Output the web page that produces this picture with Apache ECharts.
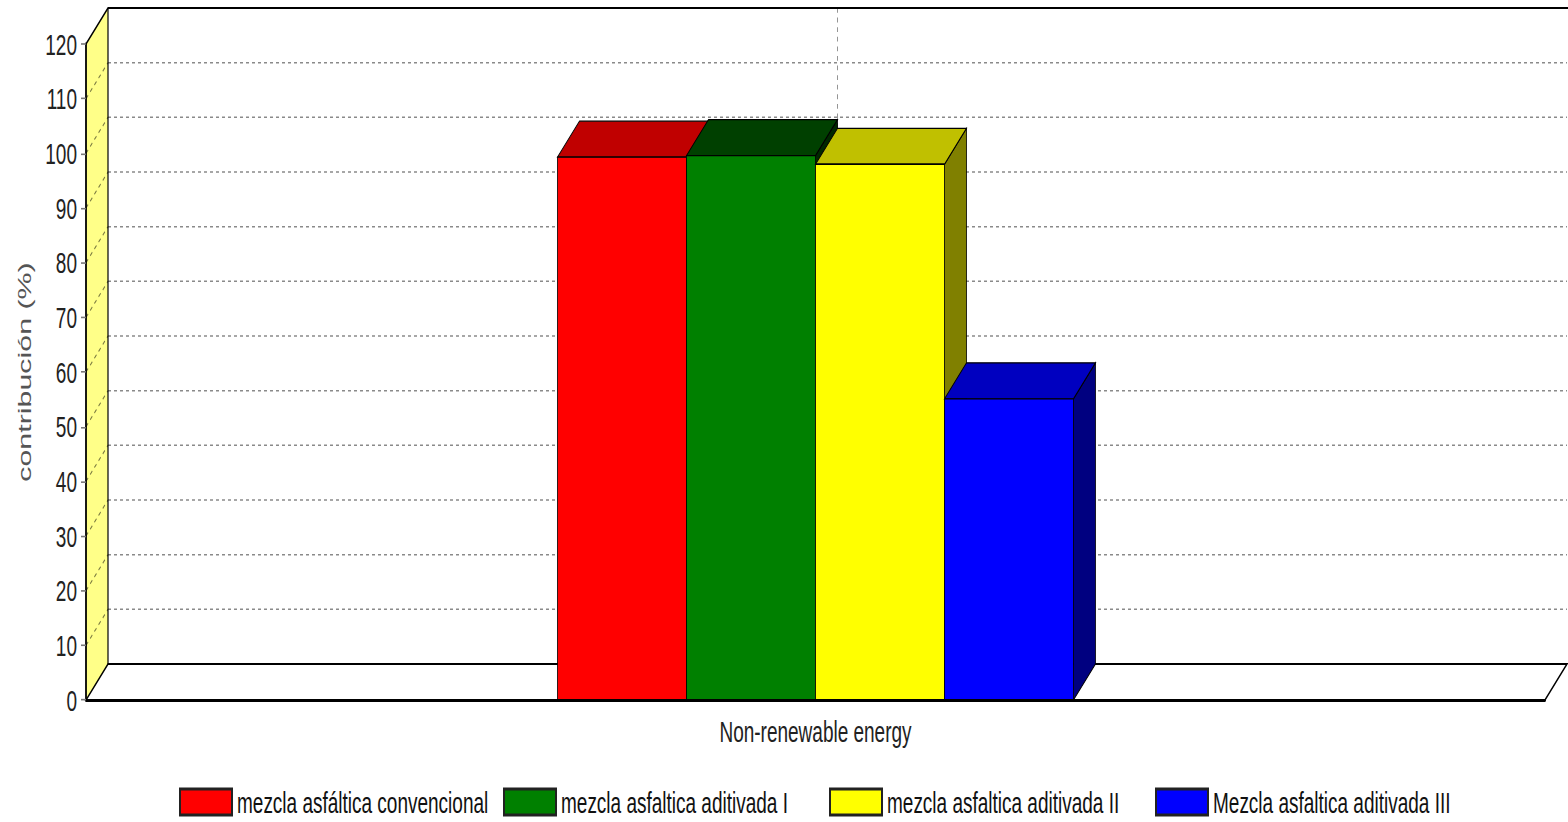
<!DOCTYPE html>
<html>
<head>
<meta charset="utf-8">
<title>contribución (%) - Non-renewable energy</title>
<script src="https://cdn.jsdelivr.net/npm/echarts@6/dist/echarts.min.js"></script>
<style>
  html, body { margin: 0; padding: 0; background: #fff; overflow: hidden; }
  #frame { width: 1568px; height: 822px; overflow: hidden; position: relative; }
  /* the chart is laid out on a shorter canvas and stretched vertically */
  #chart { width: 1568px; height: 514px; transform: scaleY(1.5992); transform-origin: 0 0; }
</style>
</head>
<body>
<div id="frame"><div id="chart"></div></div>
<script>
// ---- data ----
const categories = ['Non-renewable energy'];
const seriesNames = [
  'mezcla asfáltica convencional',
  'mezcla asfaltica aditivada I',
  'mezcla asfaltica aditivada II',
  'Mezcla asfaltica aditivada III'
];
const convencional = [99.3];
const aditivadaI = [99.6];
const aditivadaII = [98.0];
const aditivadaIII = [55.1];
const yTickValues = [0, 10, 20, 30, 40, 50, 60, 70, 80, 90, 100, 110, 120];
const yAxisTitle = 'contribución (%)';

// ---- layout / style ----
const S = 822 / 514;            // vertical stretch applied by CSS
const DX = 22;                  // depth offset of the 3D box (px)
const DY = 36 / S;
const BAR_FRAC = 129 / 1459;    // bar width as a share of the category band
const FONT = '"Liberation Sans", Arial, sans-serif';
const palette = [
  { front: '#ff0000', top: '#c00000', side: '#800000' },
  { front: '#008000', top: '#004000', side: '#002800' },
  { front: '#ffff00', top: '#c0c000', side: '#808000' },
  { front: '#0000ff', top: '#0000c0', side: '#000080' }
];
const seriesValues = [convencional, aditivadaI, aditivadaII, aditivadaIII];

// back wall, side wall, floor and their grid lines
function renderWalls(params, api) {
  const cs = params.coordSys;
  const L = cs.x, R = cs.x + cs.width, T = cs.y, B = cs.y + cs.height;
  const children = [];
  children.push({
    type: 'polygon',
    shape: { points: [[L, B], [L, T], [L + DX, T - DY], [L + DX, B - DY]] },
    style: { fill: '#ffff88', stroke: null }
  });
  children.push({
    type: 'polygon',
    shape: { points: [[L, B], [R, B], [R + DX, B - DY], [L + DX, B - DY]] },
    style: { fill: '#ffffff', stroke: '#000', lineWidth: 1.2 }
  });
  const maxV = yTickValues[yTickValues.length - 1];
  yTickValues.forEach(function (v) {
    if (v === 0 || v === maxV) return;
    const y = api.coord([0, v])[1];
    children.push({
      type: 'line',
      shape: { x1: L + DX, y1: y - DY, x2: R + DX, y2: y - DY },
      style: { stroke: '#8a8a8a', lineWidth: 0.9, lineDash: [3, 3] }
    });
    children.push({
      type: 'line',
      shape: { x1: L, y1: y, x2: L + DX, y2: y - DY },
      style: { stroke: '#7a7a40', lineWidth: 0.9, lineDash: [3, 3] }
    });
  });
  const cx = api.coord([0, 0])[0] + DX;
  children.push({
    type: 'line',
    shape: { x1: cx, y1: T - DY, x2: cx, y2: B - DY },
    style: { stroke: '#8a8a8a', lineWidth: 0.9, lineDash: [3, 3] }
  });
  children.push({
    type: 'polyline',
    shape: { points: [[L, T], [L + DX, T - DY], [R + DX + 2, T - DY]] },
    style: { stroke: '#000', lineWidth: 1.2, fill: null }
  });
  children.push({
    type: 'line',
    shape: { x1: L + DX, y1: T - DY, x2: L + DX, y2: B - DY },
    style: { stroke: '#000', lineWidth: 1.2 }
  });
  return { type: 'group', children: children };
}

// one 3D bar: right side, top and front face
function barRenderer(k) {
  return function (params, api) {
    const cat = api.value(0), val = api.value(1);
    const base = api.coord([cat, 0]);
    const top = api.coord([cat, val]);
    const bw = api.size([1, 0])[0] * BAR_FRAC;
    const x0 = base[0] + (k - seriesNames.length / 2) * bw;
    const x1 = x0 + bw;
    const yb = base[1], yt = top[1];
    const c = palette[k];
    return {
      type: 'group',
      children: [
        { type: 'polygon',
          shape: { points: [[x1, yt], [x1 + DX, yt - DY], [x1 + DX, yb - DY], [x1, yb]] },
          style: { fill: c.side, stroke: '#000', lineWidth: 0.8 } },
        { type: 'polygon',
          shape: { points: [[x0, yt], [x1, yt], [x1 + DX, yt - DY], [x0 + DX, yt - DY]] },
          style: { fill: c.top, stroke: '#000', lineWidth: 0.8 } },
        { type: 'rect',
          shape: { x: x0, y: yt, width: bw, height: yb - yt },
          style: { fill: c.front, stroke: '#000', lineWidth: 0.8 } }
      ]
    };
  };
}

const series = [{
  name: 'walls',
  type: 'custom',
  silent: true,
  z: 1,
  renderItem: renderWalls,
  data: [[0, 0]]
}];
seriesNames.forEach(function (name, k) {
  series.push({
    name: name,
    type: 'custom',
    z: 2,
    silent: true,
    itemStyle: { color: palette[k].front, borderColor: '#222', borderWidth: 1 },
    renderItem: barRenderer(k),
    data: categories.map(function (c, j) { return [j, seriesValues[k][j]]; })
  });
});

const legendLefts = [179, 503, 829, 1155];
const legends = seriesNames.map(function (name, k) {
  return {
    data: [name],
    left: legendLefts[k],
    top: 492,
    padding: 0,
    icon: 'rect',
    itemWidth: 52,
    itemHeight: 26 / S,
    selectedMode: false,
    textStyle: { fontFamily: FONT, fontSize: 19, color: '#111', padding: [0, 0, 0, 0] }
  };
});

const chart = echarts.init(document.getElementById('chart'), null, { renderer: 'svg' });
chart.setOption({
  animation: false,
  backgroundColor: '#fff',
  grid: { left: 86, right: 23, top: 44 / S, bottom: 122 / S, containLabel: false },
  legend: legends,
  xAxis: {
    type: 'category',
    data: categories,
    z: 5,
    axisLine: { lineStyle: { color: '#000', width: 1.8 } },
    axisTick: { alignWithLabel: true, length: 4, lineStyle: { color: '#666', width: 1 } },
    axisLabel: { fontFamily: FONT, fontSize: 19, color: '#222', margin: 10 },
    splitLine: { show: false }
  },
  yAxis: {
    type: 'value',
    min: 0,
    max: 120,
    interval: 10,
    z: 5,
    name: yAxisTitle,
    nameLocation: 'middle',
    nameRotate: 90,
    nameGap: 52,
    nameTextStyle: { fontFamily: FONT, fontSize: 19, color: '#555' },
    axisLine: { show: true, lineStyle: { color: '#000', width: 1.8 } },
    axisTick: { show: true, length: 5, lineStyle: { color: '#777', width: 1 } },
    axisLabel: { fontFamily: FONT, fontSize: 19, color: '#222', margin: 9 },
    splitLine: { show: false }
  },
  series: series
});
</script>
</body>
</html>
